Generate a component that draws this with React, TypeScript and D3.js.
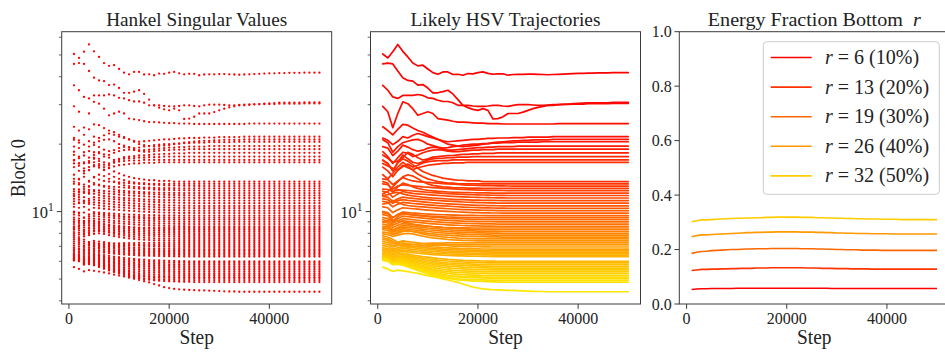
import React from "react";
import * as d3 from "d3";

const STEPS = [1000,2000,3000,4000,5000,6000,7000,8000,9000,10000,11000,12000,13000,14000,15000,16000,17000,18000,19000,20000,21000,22000,23000,24000,25000,26000,27000,28000,29000,30000,31000,32000,33000,34000,35000,36000,37000,38000,39000,40000,41000,42000,43000,44000,45000,46000,47000,48000,49000,50000];

const TOP_SERIES = [
  [50.5,48.5,51.7,55.7,51.9,49.0,46.0,44.7,45.0,43.3, 41.7,41.0,42.0,42.0,40.9,41.0,40.6,41.3,41.2,41.7, 42.0,41.4,41.0,41.2,41.2,40.6,40.9,41.0,41.0,41.1, 41.1,41.0,40.9,40.8,40.9,41.0,41.1,41.2,41.3,41.4, 41.4,41.5,41.5,41.6,41.6,41.6,41.7,41.7,41.7,41.7],
  [45.6,46.0,45.6,42.4,39.6,38.5,38.2,36.7,36.9,35.6, 33.9,33.9,34.3,34.8,33.5,31.6,29.8,29.1,28.6,28.3, 28.8,28.3,25.9,26.0,26.5,27.4,27.4,27.4,27.8,28.3, 28.8,29.2,29.5,29.8,29.8,30.0,30.1,30.2,30.3,30.4, 30.5,30.6,30.6,30.6,30.6,30.6,30.7,30.7,30.7,30.7],
  [36.6,34.8,32.5,32.0,33.0,33.0,33.0,33.3,33.0,32.2, 32.0,31.4,31.0,31.0,30.6,29.8,29.8,29.8,29.6,29.5, 29.5,29.6,29.8,29.8,29.6,29.5,29.8,30.0,30.0,30.0, 29.9,29.8,29.8,29.9,30.0,30.0,30.1,30.1,30.2,30.2, 30.2,30.3,30.3,30.3,30.3,30.3,30.4,30.4,30.4,30.4],
  [29.5,27.9,23.7,27.4,30.9,30.3,28.8,26.9,27.4,27.9, 27.4,26.0,25.8,25.6,25.3,25.1,25.1,25.0,24.9,24.8, 24.8,24.7,24.7,24.7,24.6,24.6,24.6,24.6,24.6,24.6, 24.6,24.6,24.6,24.6,24.6,24.7,24.7,24.7,24.7,24.7, 24.7,24.7,24.7,24.7,24.7,24.7,24.7,24.7,24.7,24.7],
  [23.9,23.0,22.0,23.3,24.5,24.3,23.6,23.0,22.6,22.0, 21.5,21.0,20.7,20.5,20.6,20.7,20.8,20.9,21.0,21.0, 21.1,21.2,21.2,21.3,21.3,21.3,21.4,21.4,21.4,21.5, 21.5,21.5,21.5,21.5,21.6,21.6,21.6,21.6,21.6,21.6, 21.6,21.6,21.6,21.6,21.6,21.6,21.6,21.6,21.6,21.6],
  [21.3,20.8,19.9,20.6,21.6,21.3,21.9,22.3,22.0,21.6, 21.3,21.0,20.5,20.0,19.8,19.6,19.5,19.6,19.7,19.8, 20.0,20.1,20.3,20.4,20.5,20.6,20.7,20.7,20.8,20.8, 20.9,20.9,20.9,20.9,21.0,21.0,21.0,21.0,21.0,21.0, 21.0,21.0,21.0,21.0,21.0,21.0,21.0,21.0,21.0,21.0],
  [20.9,20.3,18.4,19.5,20.3,20.6,20.9,21.0,20.6,20.0, 19.7,19.4,19.2,19.3,19.5,19.6,19.8,19.9,20.0,20.0, 20.1,20.1,20.2,20.2,20.3,20.3,20.3,20.4,20.4,20.4, 20.4,20.4,20.5,20.5,20.5,20.5,20.5,20.5,20.5,20.5, 20.5,20.5,20.5,20.5,20.5,20.5,20.5,20.5,20.5,20.5],
  [19.5,19.2,17.8,18.6,19.8,19.4,18.9,18.6,18.8,19.2, 19.4,19.3,19.0,18.8,18.8,18.9,19.0,19.1,19.2,19.3, 19.3,19.4,19.4,19.5,19.5,19.5,19.5,19.6,19.6,19.6, 19.6,19.6,19.6,19.6,19.6,19.6,19.6,19.6,19.6,19.6, 19.6,19.6,19.6,19.6,19.6,19.6,19.6,19.6,19.6,19.6],
  [18.5,17.6,16.4,17.4,18.4,18.2,17.6,17.9,18.3,18.6, 18.8,18.9,18.8,18.6,18.5,18.5,18.6,18.7,18.8,18.8, 18.9,18.9,18.9,19.0,19.0,19.0,19.0,19.0,19.0,19.0, 19.0,19.0,19.0,19.0,19.0,19.0,19.0,19.0,19.0,19.0, 19.0,19.0,19.0,19.0,19.0,19.0,19.0,19.0,19.0,19.0],
  [17.9,17.3,16.6,16.8,17.4,18.4,18.0,17.4,17.0,17.2, 17.5,17.6,17.7,17.8,17.8,17.9,18.0,18.0,18.1,18.1, 18.2,18.2,18.2,18.3,18.3,18.3,18.3,18.3,18.3,18.3, 18.3,18.3,18.3,18.3,18.3,18.3,18.3,18.3,18.3,18.3, 18.3,18.3,18.3,18.3,18.3,18.3,18.3,18.3,18.3,18.3],
  [17.0,16.4,15.2,16.6,17.9,17.2,16.6,16.4,16.7,17.0, 17.2,17.3,17.3,17.4,17.4,17.5,17.5,17.5,17.6,17.6, 17.6,17.6,17.6,17.6,17.6,17.6,17.6,17.6,17.6,17.6, 17.6,17.6,17.6,17.6,17.6,17.6,17.6,17.6,17.6,17.6, 17.6,17.6,17.6,17.6,17.6,17.6,17.6,17.6,17.6,17.6],
  [16.4,16.0,15.6,15.3,15.9,16.3,15.8,16.1,16.5,16.7, 16.8,16.9,16.9,16.9,17.0,17.0,17.0,17.0,17.0,17.0, 17.0,17.0,17.0,17.0,17.0,17.0,17.0,17.0,17.0,17.0, 17.0,17.0,17.0,17.0,17.0,17.0,17.0,17.0,17.0,17.0, 17.0,17.0,17.0,17.0,17.0,17.0,17.0,17.0,17.0,17.0],
  [15.8,15.2,14.3,15.3,16.1,15.7,15.4,15.7,15.9,16.1, 16.2,16.3,16.4,16.4,16.5,16.5,16.5,16.6,16.6,16.6, 16.6,16.6,16.6,16.6,16.6,16.6,16.6,16.6,16.6,16.6, 16.6,16.6,16.6,16.6,16.6,16.6,16.6,16.6,16.6,16.6, 16.6,16.6,16.6,16.6,16.6,16.6,16.6,16.6,16.6,16.6],
  [16.9,16.4,15.2,16.5,17.2,16.8,16.2,15.6,15.1,14.8, 14.5,14.3,14.1,14.0,13.9,13.8,13.8,13.7,13.7,13.7, 13.6,13.6,13.6,13.6,13.6,13.6,13.6,13.6,13.6,13.6, 13.6,13.6,13.6,13.6,13.6,13.6,13.6,13.6,13.6,13.6, 13.6,13.6,13.6,13.6,13.6,13.6,13.6,13.6,13.6,13.6],
  [14.6,14.0,14.8,15.8,16.6,16.0,15.3,14.7,14.3,14.0, 13.8,13.6,13.5,13.4,13.4,13.3,13.3,13.3,13.3,13.3, 13.3,13.3,13.3,13.3,13.3,13.3,13.3,13.3,13.3,13.3, 13.3,13.3,13.3,13.3,13.3,13.3,13.3,13.3,13.3,13.3, 13.3,13.3,13.3,13.3,13.3,13.3,13.3,13.3,13.3,13.3],
];

const DENSE_SERIES = [
  [14.0,13.9,13.2,13.7,14.2,13.9,13.7,13.6,13.55,13.5, 13.44,13.39,13.34,13.29,13.25,13.21,13.17,13.14,13.11,13.09, 13.07,13.05,13.04,13.03,13.02,13.01,13,13,13,13, 13,13,13,13,13,13,13,13,13,13, 13,13,13,13,13,13,13,13,13,13],
  [12.0,12.3,12.9,13.6,14.3,14.6,14.4,14.0,13.6,13.3, 13.1,13.0,12.9,12.85,12.8,12.78,12.76,12.74,12.73,12.72, 12.71,12.7,12.7,12.7,12.7,12.7,12.7,12.7,12.7,12.7, 12.7,12.7,12.7,12.7,12.7,12.7,12.7,12.7,12.7,12.7, 12.7,12.7,12.7,12.7,12.7,12.7,12.7,12.7,12.7,12.7],
  [13.3,13.2,12.6,13.0,13.2,13.1,13.03,12.97,12.9,12.85, 12.8,12.75,12.7,12.66,12.63,12.6,12.55,12.52,12.5,12.48, 12.46,12.45,12.44,12.43,12.42,12.41,12.4,12.4,12.4,12.4, 12.4,12.4,12.4,12.4,12.4,12.4,12.4,12.4,12.4,12.4, 12.4,12.4,12.4,12.4,12.4,12.4,12.4,12.4,12.4,12.4],
  [13.6,13.4,12.2,12.9,13.4,13.2,12.9,12.7,12.55,12.45, 12.38,12.32,12.27,12.23,12.2,12.18,12.16,12.15,12.14,12.13, 12.12,12.11,12.1,12.1,12.1,12.1,12.1,12.1,12.1,12.1, 12.1,12.1,12.1,12.1,12.1,12.1,12.1,12.1,12.1,12.1, 12.1,12.1,12.1,12.1,12.1,12.1,12.1,12.1,12.1,12.1],
  [12.6,12.55,12.3,12.5,12.48,12.42,12.36,12.3,12.25,12.2, 12.15,12.11,12.07,12.03,12.0,11.97,11.94,11.91,11.89,11.87, 11.86,11.84,11.83,11.82,11.81,11.8,11.8,11.8,11.8,11.8, 11.8,11.8,11.8,11.8,11.8,11.8,11.8,11.8,11.8,11.8, 11.8,11.8,11.8,11.8,11.8,11.8,11.8,11.8,11.8,11.8],
  [12.3,12.2,11.6,12.0,12.3,12.15,12.06,12.0,11.95,11.9, 11.85,11.81,11.77,11.73,11.7,11.67,11.64,11.61,11.59,11.57, 11.56,11.54,11.53,11.52,11.51,11.5,11.5,11.5,11.5,11.5, 11.5,11.5,11.5,11.5,11.5,11.5,11.5,11.5,11.5,11.5, 11.5,11.5,11.5,11.5,11.5,11.5,11.5,11.5,11.5,11.5],
  [11.8,11.9,12.1,12.2,12.0,11.85,11.75,11.68,11.6,11.55, 11.5,11.46,11.42,11.38,11.35,11.32,11.3,11.28,11.26,11.25, 11.24,11.23,11.22,11.21,11.2,11.2,11.2,11.2,11.2,11.2, 11.2,11.2,11.2,11.2,11.2,11.2,11.2,11.2,11.2,11.2, 11.2,11.2,11.2,11.2,11.2,11.2,11.2,11.2,11.2,11.2],
  [11.7,11.6,11.1,11.4,11.6,11.52,11.46,11.4,11.35,11.3, 11.25,11.21,11.17,11.13,11.1,11.07,11.04,11.01,10.99,10.97, 10.96,10.94,10.93,10.92,10.91,10.9,10.9,10.9,10.9,10.9, 10.9,10.9,10.9,10.9,10.9,10.9,10.9,10.9,10.9,10.9, 10.9,10.9,10.9,10.9,10.9,10.9,10.9,10.9,10.9,10.9],
  [11.4,11.3,10.9,11.2,11.3,11.22,11.16,11.1,11.05,11.0, 10.95,10.91,10.87,10.83,10.8,10.77,10.74,10.71,10.69,10.67, 10.66,10.64,10.63,10.62,10.61,10.6,10.6,10.6,10.6,10.6, 10.6,10.6,10.6,10.6,10.6,10.6,10.6,10.6,10.6,10.6, 10.6,10.6,10.6,10.6,10.6,10.6,10.6,10.6,10.6,10.6],
  [11.1,11.0,10.5,10.8,11.0,10.93,10.87,10.82,10.77,10.72, 10.68,10.64,10.6,10.57,10.54,10.51,10.48,10.45,10.43,10.41, 10.4,10.39,10.38,10.37,10.36,10.35,10.35,10.35,10.35,10.35, 10.35,10.35,10.35,10.35,10.35,10.35,10.35,10.35,10.35,10.35, 10.35,10.35,10.35,10.35,10.35,10.35,10.35,10.35,10.35,10.35],
  [10.8,10.9,11.2,11.0,10.75,10.65,10.58,10.53,10.49,10.45, 10.41,10.37,10.33,10.3,10.27,10.24,10.21,10.19,10.17,10.15, 10.14,10.13,10.12,10.11,10.1,10.1,10.1,10.1,10.1,10.1, 10.1,10.1,10.1,10.1,10.1,10.1,10.1,10.1,10.1,10.1, 10.1,10.1,10.1,10.1,10.1,10.1,10.1,10.1,10.1,10.1],
  [10.5,10.4,9.9,10.2,10.4,10.35,10.3,10.25,10.2,10.16, 10.12,10.08,10.05,10.02,9.99,9.96,9.94,9.92,9.9,9.89, 9.88,9.87,9.86,9.86,9.85,9.85,9.85,9.85,9.85,9.85, 9.85,9.85,9.85,9.85,9.85,9.85,9.85,9.85,9.85,9.85, 9.85,9.85,9.85,9.85,9.85,9.85,9.85,9.85,9.85,9.85],
  [10.0,9.9,9.4,9.7,9.95,9.9,9.86,9.82,9.78,9.75, 9.72,9.7,9.68,9.66,9.65,9.64,9.63,9.62,9.62,9.61, 9.61,9.6,9.6,9.6,9.6,9.6,9.6,9.6,9.6,9.6, 9.6,9.6,9.6,9.6,9.6,9.6,9.6,9.6,9.6,9.6, 9.6,9.6,9.6,9.6,9.6,9.6,9.6,9.6,9.6,9.6],
  [9.0,9.1,9.4,9.7,9.8,9.75,9.7,9.65,9.6,9.56, 9.53,9.5,9.48,9.46,9.44,9.43,9.42,9.41,9.41,9.4, 9.4,9.4,9.4,9.4,9.4,9.4,9.4,9.4,9.4,9.4, 9.4,9.4,9.4,9.4,9.4,9.4,9.4,9.4,9.4,9.4, 9.4,9.4,9.4,9.4,9.4,9.4,9.4,9.4,9.4,9.4],
  [9.9,9.8,9.1,9.5,9.8,9.72,9.65,9.6,9.55,9.5, 9.45,9.41,9.37,9.34,9.31,9.29,9.27,9.25,9.24,9.23, 9.22,9.21,9.21,9.2,9.2,9.2,9.2,9.2,9.2,9.2, 9.2,9.2,9.2,9.2,9.2,9.2,9.2,9.2,9.2,9.2, 9.2,9.2,9.2,9.2,9.2,9.2,9.2,9.2,9.2,9.2],
  [9.7,9.6,9.0,9.3,9.55,9.5,9.45,9.4,9.35,9.3, 9.25,9.21,9.17,9.14,9.11,9.09,9.07,9.05,9.04,9.03, 9.02,9.01,9.01,9.0,9.0,9.0,9.0,9.0,9.0,9.0, 9.0,9.0,9.0,9.0,9.0,9.0,9.0,9.0,9.0,9.0, 9.0,9.0,9.0,9.0,9.0,9.0,9.0,9.0,9.0,9.0],
  [9.4,9.3,8.9,9.1,9.3,9.25,9.2,9.15,9.1,9.06, 9.02,8.99,8.96,8.93,8.91,8.89,8.87,8.85,8.84,8.83, 8.82,8.81,8.81,8.8,8.8,8.8,8.8,8.8,8.8,8.8, 8.8,8.8,8.8,8.8,8.8,8.8,8.8,8.8,8.8,8.8, 8.8,8.8,8.8,8.8,8.8,8.8,8.8,8.8,8.8,8.8],
  [9.2,9.1,8.7,8.9,9.1,9.05,9.0,8.95,8.9,8.86, 8.82,8.79,8.76,8.73,8.71,8.69,8.67,8.65,8.64,8.63, 8.62,8.61,8.61,8.6,8.6,8.6,8.6,8.6,8.6,8.6, 8.6,8.6,8.6,8.6,8.6,8.6,8.6,8.6,8.6,8.6, 8.6,8.6,8.6,8.6,8.6,8.6,8.6,8.6,8.6,8.6],
  [8.4,8.6,8.9,9.1,9.0,8.9,8.8,8.72,8.66,8.61, 8.57,8.54,8.51,8.49,8.48,8.47,8.46,8.46,8.45,8.45, 8.45,8.45,8.45,8.45,8.45,8.45,8.45,8.45,8.45,8.45, 8.45,8.45,8.45,8.45,8.45,8.45,8.45,8.45,8.45,8.45, 8.45,8.45,8.45,8.45,8.45,8.45,8.45,8.45,8.45,8.45],
  [9.0,8.9,8.5,8.7,8.85,8.8,8.75,8.7,8.65,8.6, 8.56,8.52,8.48,8.45,8.42,8.4,8.38,8.36,8.34,8.33, 8.32,8.31,8.31,8.3,8.3,8.3,8.3,8.3,8.3,8.3, 8.3,8.3,8.3,8.3,8.3,8.3,8.3,8.3,8.3,8.3, 8.3,8.3,8.3,8.3,8.3,8.3,8.3,8.3,8.3,8.3],
  [8.8,8.7,8.3,8.5,8.7,8.65,8.6,8.55,8.5,8.45, 8.41,8.37,8.33,8.3,8.27,8.25,8.23,8.21,8.2,8.19, 8.18,8.17,8.16,8.16,8.15,8.15,8.15,8.15,8.15,8.15, 8.15,8.15,8.15,8.15,8.15,8.15,8.15,8.15,8.15,8.15, 8.15,8.15,8.15,8.15,8.15,8.15,8.15,8.15,8.15,8.15],
  [8.6,8.55,8.2,8.4,8.55,8.5,8.45,8.4,8.35,8.3, 8.26,8.22,8.18,8.15,8.12,8.1,8.08,8.06,8.05,8.04, 8.03,8.02,8.01,8.01,8.0,8.0,8.0,8.0,8.0,8.0, 8.0,8.0,8.0,8.0,8.0,8.0,8.0,8.0,8.0,8.0, 8.0,8.0,8.0,8.0,8.0,8.0,8.0,8.0,8.0,8.0],
  [8.45,8.4,8.1,8.25,8.4,8.35,8.3,8.25,8.2,8.15, 8.11,8.07,8.03,8.0,7.97,7.95,7.93,7.91,7.9,7.89, 7.88,7.87,7.86,7.86,7.85,7.85,7.85,7.85,7.85,7.85, 7.85,7.85,7.85,7.85,7.85,7.85,7.85,7.85,7.85,7.85, 7.85,7.85,7.85,7.85,7.85,7.85,7.85,7.85,7.85,7.85],
  [8.3,8.25,7.95,8.1,8.25,8.2,8.15,8.1,8.05,8.0, 7.96,7.92,7.88,7.85,7.82,7.8,7.78,7.76,7.75,7.74, 7.73,7.72,7.71,7.71,7.7,7.7,7.7,7.7,7.7,7.7, 7.7,7.7,7.7,7.7,7.7,7.7,7.7,7.7,7.7,7.7, 7.7,7.7,7.7,7.7,7.7,7.7,7.7,7.7,7.7,7.7],
  [8.1,8.05,7.9,8.0,8.15,8.2,8.15,8.05,7.95,7.88, 7.82,7.77,7.72,7.68,7.65,7.62,7.6,7.58,7.57,7.56, 7.56,7.55,7.55,7.55,7.55,7.55,7.55,7.55,7.55,7.55, 7.55,7.55,7.55,7.55,7.55,7.55,7.55,7.55,7.55,7.55, 7.55,7.55,7.55,7.55,7.55,7.55,7.55,7.55,7.55,7.55],
  [7.95,7.9,7.75,7.85,7.95,8.0,7.95,7.85,7.77,7.7, 7.64,7.59,7.55,7.51,7.48,7.46,7.44,7.43,7.42,7.41, 7.41,7.4,7.4,7.4,7.4,7.4,7.4,7.4,7.4,7.4, 7.4,7.4,7.4,7.4,7.4,7.4,7.4,7.4,7.4,7.4, 7.4,7.4,7.4,7.4,7.4,7.4,7.4,7.4,7.4,7.4],
  [7.8,7.7,7.5,7.3,7.15,7.1,7.12,7.16,7.2,7.22, 7.23,7.24,7.24,7.25,7.25,7.25,7.25,7.25,7.25,7.25, 7.25,7.25,7.25,7.25,7.25,7.25,7.25,7.25,7.25,7.25, 7.25,7.25,7.25,7.25,7.25,7.25,7.25,7.25,7.25,7.25, 7.25,7.25,7.25,7.25,7.25,7.25,7.25,7.25,7.25,7.25],
  [7.65,7.55,7.35,7.15,7.0,6.95,6.98,7.02,7.05,7.07, 7.08,7.09,7.1,7.1,7.1,7.1,7.1,7.1,7.1,7.1, 7.1,7.1,7.1,7.1,7.1,7.1,7.1,7.1,7.1,7.1, 7.1,7.1,7.1,7.1,7.1,7.1,7.1,7.1,7.1,7.1, 7.1,7.1,7.1,7.1,7.1,7.1,7.1,7.1,7.1,7.1],
  [7.5,7.45,7.2,7.3,7.4,7.35,7.3,7.25,7.2,7.16, 7.12,7.09,7.06,7.04,7.02,7.0,6.99,6.98,6.97,6.97, 6.96,6.96,6.95,6.95,6.95,6.95,6.95,6.95,6.95,6.95, 6.95,6.95,6.95,6.95,6.95,6.95,6.95,6.95,6.95,6.95, 6.95,6.95,6.95,6.95,6.95,6.95,6.95,6.95,6.95,6.95],
  [7.35,7.3,7.05,7.15,7.25,7.2,7.15,7.1,7.05,7.01, 6.97,6.94,6.91,6.89,6.87,6.85,6.84,6.83,6.82,6.82, 6.81,6.81,6.8,6.8,6.8,6.8,6.8,6.8,6.8,6.8, 6.8,6.8,6.8,6.8,6.8,6.8,6.8,6.8,6.8,6.8, 6.8,6.8,6.8,6.8,6.8,6.8,6.8,6.8,6.8,6.8],
  [7.2,7.15,6.95,7.05,7.1,7.05,7.0,6.96,6.92,6.89, 6.86,6.83,6.8,6.78,6.76,6.75,6.74,6.73,6.72,6.72, 6.71,6.71,6.7,6.7,6.7,6.7,6.7,6.7,6.7,6.7, 6.7,6.7,6.7,6.7,6.7,6.7,6.7,6.7,6.7,6.7, 6.7,6.7,6.7,6.7,6.7,6.7,6.7,6.7,6.7,6.7],
  [7.05,7.0,6.8,6.9,6.98,6.94,6.9,6.86,6.82,6.79, 6.76,6.73,6.7,6.68,6.66,6.65,6.64,6.63,6.62,6.62, 6.61,6.61,6.6,6.6,6.6,6.6,6.6,6.6,6.6,6.6, 6.6,6.6,6.6,6.6,6.6,6.6,6.6,6.6,6.6,6.6, 6.6,6.6,6.6,6.6,6.6,6.6,6.6,6.6,6.6,6.6],
  [6.9,6.85,6.7,6.78,6.85,6.82,6.78,6.74,6.7,6.67, 6.64,6.62,6.6,6.58,6.56,6.55,6.54,6.53,6.52,6.52, 6.51,6.51,6.5,6.5,6.5,6.5,6.5,6.5,6.5,6.5, 6.5,6.5,6.5,6.5,6.5,6.5,6.5,6.5,6.5,6.5, 6.5,6.5,6.5,6.5,6.5,6.5,6.5,6.5,6.5,6.5],
  [6.8,6.75,6.6,6.68,6.74,6.7,6.66,6.62,6.59,6.56, 6.53,6.51,6.49,6.47,6.46,6.45,6.44,6.43,6.42,6.42, 6.41,6.41,6.4,6.4,6.4,6.4,6.4,6.4,6.4,6.4, 6.4,6.4,6.4,6.4,6.4,6.4,6.4,6.4,6.4,6.4, 6.4,6.4,6.4,6.4,6.4,6.4,6.4,6.4,6.4,6.4],
  [6.7,6.65,6.5,6.58,6.64,6.6,6.56,6.52,6.49,6.46, 6.43,6.41,6.39,6.37,6.36,6.35,6.34,6.33,6.32,6.32, 6.31,6.31,6.3,6.3,6.3,6.3,6.3,6.3,6.3,6.3, 6.3,6.3,6.3,6.3,6.3,6.3,6.3,6.3,6.3,6.3, 6.3,6.3,6.3,6.3,6.3,6.3,6.3,6.3,6.3,6.3],
  [6.6,6.55,6.4,6.5,6.52,6.46,6.4,6.35,6.3,6.26, 6.22,6.18,6.15,6.12,6.1,6.08,6.06,6.05,6.04,6.03, 6.02,6.01,6.01,6.0,6.0,6.0,6.0,6.0,6.0,6.0, 6.0,6.0,6.0,6.0,6.0,6.0,6.0,6.0,6.0,6.0, 6.0,6.0,6.0,6.0,6.0,6.0,6.0,6.0,6.0,6.0],
  [6.5,6.45,6.3,6.4,6.42,6.36,6.3,6.25,6.2,6.16, 6.12,6.08,6.05,6.02,6.0,5.98,5.96,5.95,5.94,5.93, 5.92,5.91,5.91,5.9,5.9,5.9,5.9,5.9,5.9,5.9, 5.9,5.9,5.9,5.9,5.9,5.9,5.9,5.9,5.9,5.9, 5.9,5.9,5.9,5.9,5.9,5.9,5.9,5.9,5.9,5.9],
  [6.45,6.4,6.2,6.3,6.35,6.28,6.22,6.16,6.1,6.05, 6.01,5.97,5.94,5.91,5.89,5.87,5.85,5.84,5.83,5.82, 5.81,5.81,5.8,5.8,5.8,5.8,5.8,5.8,5.8,5.8, 5.8,5.8,5.8,5.8,5.8,5.8,5.8,5.8,5.8,5.8, 5.8,5.8,5.8,5.8,5.8,5.8,5.8,5.8,5.8,5.8],
  [6.4,6.35,6.15,6.25,6.28,6.2,6.13,6.07,6.01,5.96, 5.91,5.87,5.84,5.81,5.79,5.77,5.75,5.74,5.73,5.72, 5.71,5.71,5.7,5.7,5.7,5.7,5.7,5.7,5.7,5.7, 5.7,5.7,5.7,5.7,5.7,5.7,5.7,5.7,5.7,5.7, 5.7,5.7,5.7,5.7,5.7,5.7,5.7,5.7,5.7,5.7],
  [6.35,6.3,6.1,6.2,6.22,6.14,6.06,5.99,5.93,5.87, 5.82,5.78,5.74,5.71,5.69,5.67,5.65,5.64,5.63,5.62, 5.61,5.61,5.6,5.6,5.6,5.6,5.6,5.6,5.6,5.6, 5.6,5.6,5.6,5.6,5.6,5.6,5.6,5.6,5.6,5.6, 5.6,5.6,5.6,5.6,5.6,5.6,5.6,5.6,5.6,5.6],
  [6.3,6.25,6.05,6.15,6.15,6.06,5.98,5.9,5.84,5.78, 5.73,5.68,5.64,5.61,5.58,5.56,5.55,5.54,5.53,5.52, 5.51,5.51,5.5,5.5,5.5,5.5,5.5,5.5,5.5,5.5, 5.5,5.5,5.5,5.5,5.5,5.5,5.5,5.5,5.5,5.5, 5.5,5.5,5.5,5.5,5.5,5.5,5.5,5.5,5.5,5.5],
  [6.25,6.2,6.0,6.1,6.1,6.0,5.9,5.82,5.75,5.68, 5.62,5.57,5.53,5.5,5.47,5.45,5.44,5.43,5.42,5.42, 5.41,5.41,5.4,5.4,5.4,5.4,5.4,5.4,5.4,5.4, 5.4,5.4,5.4,5.4,5.4,5.4,5.4,5.4,5.4,5.4, 5.4,5.4,5.4,5.4,5.4,5.4,5.4,5.4,5.4,5.4],
  [6.2,6.15,5.95,6.05,6.05,5.95,5.85,5.75,5.67,5.6, 5.53,5.47,5.43,5.4,5.37,5.35,5.34,5.33,5.32,5.32, 5.31,5.31,5.3,5.3,5.3,5.3,5.3,5.3,5.3,5.3, 5.3,5.3,5.3,5.3,5.3,5.3,5.3,5.3,5.3,5.3, 5.3,5.3,5.3,5.3,5.3,5.3,5.3,5.3,5.3,5.3],
  [6.18,6.12,5.9,6.0,5.98,5.88,5.78,5.68,5.6,5.52, 5.45,5.39,5.34,5.3,5.27,5.25,5.23,5.22,5.21,5.21, 5.2,5.2,5.2,5.2,5.2,5.2,5.2,5.2,5.2,5.2, 5.2,5.2,5.2,5.2,5.2,5.2,5.2,5.2,5.2,5.2, 5.2,5.2,5.2,5.2,5.2,5.2,5.2,5.2,5.2,5.2],
  [6.15,6.1,5.88,5.95,5.92,5.82,5.72,5.62,5.53,5.45, 5.38,5.31,5.25,5.2,5.17,5.15,5.13,5.12,5.11,5.11, 5.1,5.1,5.1,5.1,5.1,5.1,5.1,5.1,5.1,5.1, 5.1,5.1,5.1,5.1,5.1,5.1,5.1,5.1,5.1,5.1, 5.1,5.1,5.1,5.1,5.1,5.1,5.1,5.1,5.1,5.1],
  [6.12,6.06,5.85,5.9,5.86,5.76,5.66,5.56,5.47,5.39, 5.32,5.26,5.2,5.16,5.13,5.11,5.09,5.08,5.07,5.06, 5.06,5.05,5.05,5.05,5.05,5.05,5.05,5.05,5.05,5.05, 5.05,5.05,5.05,5.05,5.05,5.05,5.05,5.05,5.05,5.05, 5.05,5.05,5.05,5.05,5.05,5.05,5.05,5.05,5.05,5.05],
  [6.1,6.03,5.82,5.86,5.8,5.7,5.6,5.5,5.41,5.33, 5.26,5.19,5.13,5.08,5.04,5.01,4.99,4.98,4.97,4.96, 4.96,4.95,4.95,4.95,4.95,4.95,4.95,4.95,4.95,4.95, 4.95,4.95,4.95,4.95,4.95,4.95,4.95,4.95,4.95,4.95, 4.95,4.95,4.95,4.95,4.95,4.95,4.95,4.95,4.95,4.95],
  [6.05,6.0,5.8,5.82,5.76,5.66,5.56,5.46,5.37,5.29, 5.21,5.14,5.08,5.03,4.99,4.96,4.94,4.92,4.9,4.89, 4.88,4.87,4.86,4.86,4.85,4.85,4.85,4.85,4.85,4.85, 4.85,4.85,4.85,4.85,4.85,4.85,4.85,4.85,4.85,4.85, 4.85,4.85,4.85,4.85,4.85,4.85,4.85,4.85,4.85,4.85],
  [5.65,5.55,5.41,5.48,5.44,5.4,5.35,5.3,5.23,5.18, 5.13,5.07,5.01,4.95,4.89,4.83,4.75,4.68,4.6,4.56, 4.52,4.5,4.48,4.47,4.46,4.45,4.45,4.44,4.43,4.42, 4.41,4.4,4.4,4.39,4.39,4.39,4.39,4.39,4.39,4.39, 4.39,4.39,4.39,4.39,4.39,4.39,4.39,4.39,4.39,4.39],
];

const HSV_SERIES = [...TOP_SERIES, ...DENSE_SERIES];

const ENERGY_R6 = [0.053,0.055,0.056,0.056,0.057,0.057,0.057,0.057,0.057,0.058, 0.058,0.058,0.058,0.058,0.058,0.058,0.058,0.058,0.058,0.058, 0.058,0.058,0.058,0.058,0.058,0.058,0.058,0.058,0.057,0.057, 0.057,0.057,0.057,0.057,0.057,0.057,0.057,0.057,0.057,0.057, 0.057,0.057,0.057,0.057,0.057,0.057,0.057,0.057,0.057,0.057];
const ENERGY_R13 = [0.123,0.125,0.127,0.127,0.128,0.128,0.129,0.129,0.13,0.13, 0.131,0.131,0.131,0.132,0.132,0.132,0.133,0.133,0.133,0.133, 0.133,0.133,0.133,0.132,0.132,0.132,0.131,0.131,0.131,0.13, 0.13,0.13,0.129,0.129,0.129,0.129,0.128,0.128,0.128,0.128, 0.128,0.128,0.128,0.128,0.128,0.128,0.128,0.128,0.128,0.128];
const ENERGY_R19 = [0.186,0.19,0.193,0.194,0.196,0.197,0.198,0.199,0.2,0.2, 0.201,0.202,0.202,0.203,0.203,0.203,0.204,0.204,0.204,0.204, 0.204,0.204,0.203,0.203,0.203,0.202,0.202,0.201,0.201,0.2, 0.2,0.199,0.199,0.199,0.198,0.198,0.198,0.198,0.197,0.197, 0.197,0.197,0.197,0.197,0.197,0.197,0.197,0.197,0.197,0.197];
const ENERGY_R26 = [0.247,0.251,0.254,0.254,0.255,0.256,0.257,0.258,0.259,0.26, 0.261,0.262,0.262,0.263,0.263,0.264,0.264,0.265,0.265,0.265, 0.265,0.265,0.264,0.264,0.264,0.263,0.263,0.262,0.262,0.261, 0.261,0.26,0.26,0.259,0.259,0.259,0.258,0.258,0.258,0.258, 0.257,0.257,0.257,0.257,0.257,0.257,0.257,0.257,0.257,0.257];
const ENERGY_R32 = [0.302,0.306,0.309,0.309,0.31,0.311,0.312,0.313,0.314,0.315, 0.315,0.316,0.316,0.317,0.317,0.318,0.318,0.319,0.319,0.319, 0.319,0.319,0.318,0.318,0.318,0.317,0.317,0.316,0.316,0.315, 0.315,0.314,0.314,0.313,0.313,0.312,0.312,0.312,0.311,0.311, 0.311,0.311,0.31,0.31,0.31,0.31,0.31,0.31,0.31,0.31];
const ENERGY_SERIES = [ENERGY_R6, ENERGY_R13, ENERGY_R19, ENERGY_R26, ENERGY_R32];
const LEGEND_R = [6, 13, 19, 26, 32];
const LEGEND_PCT = [10, 20, 30, 40, 50];
const LEGEND_T = [0, 0.2, 0.4, 0.6, 0.8];

const X_TICKS = [0, 20000, 40000];
const LOG_MINOR = [4, 5, 6, 7, 8, 9, 20, 30, 40, 50, 60];
const LIN_TICKS = [0, 0.2, 0.4, 0.6, 0.8, 1.0];
const TITLES = ["Hankel Singular Values", "Likely HSV Trajectories", "Energy Fraction Bottom  "];

const W = 945, H = 352;
const TOP = 31.7, BOTTOM = 304, PW = 270;
const LEFTS = [61.7, 370.5, 679.3];
const FONT = "Liberation Serif, Times New Roman, Times, DejaVu Serif, serif";
const SPINE = "#3c3c3c";

const autumn = (t: number) => d3.rgb(255, Math.round(255 * t), 0).formatHex();

function xScale(left: number) {
  return d3.scaleLinear().domain([-1450, 52450]).range([left, left + PW]);
}
const yLog = d3.scaleLog().domain([3.87, 63.5]).range([BOTTOM, TOP]);
const yLin = d3.scaleLinear().domain([0, 1]).range([BOTTOM, TOP]);

function XAxis({ left }: { left: number }) {
  const x = xScale(left);
  return (
    <g>
      {X_TICKS.map((t) => (
        <g key={t}>
          <line x1={x(t)} x2={x(t)} y1={BOTTOM} y2={BOTTOM + 4.9} stroke={SPINE} strokeWidth={1} />
          <text x={x(t)} y={324} textAnchor="middle" fontSize={16} fill="#222">{t}</text>
        </g>
      ))}
      <text x={left + PW / 2} y={344} textAnchor="middle" fontSize={20} fill="#222" textLength={34.5} lengthAdjust="spacingAndGlyphs">Step</text>
    </g>
  );
}

function LogYAxis({ left }: { left: number }) {
  return (
    <g>
      {LOG_MINOR.map((v) => (
        <line key={v} x1={left - 2.8} x2={left} y1={yLog(v)} y2={yLog(v)} stroke={SPINE} strokeWidth={0.8} />
      ))}
      <line x1={left - 4.9} x2={left} y1={yLog(10)} y2={yLog(10)} stroke={SPINE} strokeWidth={1} />
      <text x={left - 8} y={yLog(10) + 6} textAnchor="end" fontSize={16.5} fill="#222">
        10<tspan dy={-7} fontSize={11.5}>1</tspan>
      </text>
    </g>
  );
}

export default function App() {
  const x1 = xScale(LEFTS[0]);
  const x2 = xScale(LEFTS[1]);
  const x3 = xScale(LEFTS[2]);
  const n = HSV_SERIES.length;
  const lineMid = d3.line<number>().x((_, i) => x2(STEPS[i])).y((d) => yLog(d));
  const lineRight = d3.line<number>().x((_, i) => x3(STEPS[i])).y((d) => yLin(d));

  return (
    <svg width={W} height={H} viewBox={`0 0 ${W} ${H}`} style={{ position: "fixed", left: 0, top: 0, background: "#fff", fontFamily: FONT }}>
      <rect x={0} y={0} width={W} height={H} fill="#fff" />

      <g>
        {HSV_SERIES.map((s, si) =>
          s.map((v, i) => (
            <circle key={`${si}-${i}`} cx={x1(STEPS[i])} cy={yLog(v)} r={1.15} fill="#ff0000" />
          ))
        )}
      </g>

      <g fill="none" strokeWidth={1.7} strokeLinejoin="round" strokeLinecap="round">
        {HSV_SERIES.map((s, si) => (
          <path key={si} d={lineMid(s) || ""} stroke={autumn((0.9 * si) / (n - 1))} />
        ))}
      </g>

      <g fill="none" strokeWidth={1.6}>
        {ENERGY_SERIES.map((s, si) => (
          <path key={si} d={lineRight(s) || ""} stroke={autumn(LEGEND_T[si])} />
        ))}
      </g>

      {LEFTS.map((l) => (
        <rect key={l} x={l} y={TOP} width={PW} height={BOTTOM - TOP} fill="none" stroke={SPINE} strokeWidth={1} />
      ))}
      <XAxis left={LEFTS[0]} />
      <XAxis left={LEFTS[1]} />
      <XAxis left={LEFTS[2]} />
      <LogYAxis left={LEFTS[0]} />
      <LogYAxis left={LEFTS[1]} />
      <g>
        {LIN_TICKS.map((t) => (
          <g key={t}>
            <line x1={LEFTS[2] - 4.9} x2={LEFTS[2]} y1={yLin(t)} y2={yLin(t)} stroke={SPINE} strokeWidth={1} />
            <text x={LEFTS[2] - 7.5} y={yLin(t) + 5.5} textAnchor="end" fontSize={16} fill="#222">{t.toFixed(1)}</text>
          </g>
        ))}
      </g>

      <text x={LEFTS[0] + PW / 2} y={26} textAnchor="middle" fontSize={19} fill="#222" textLength={181} lengthAdjust="spacingAndGlyphs">{TITLES[0]}</text>
      <text x={LEFTS[1] + PW / 2} y={26} textAnchor="middle" fontSize={19} fill="#222" textLength={190} lengthAdjust="spacingAndGlyphs">{TITLES[1]}</text>
      <text x={LEFTS[2] + PW / 2} y={26} textAnchor="middle" fontSize={19} fill="#222" textLength={213} lengthAdjust="spacingAndGlyphs" xmlSpace="preserve">
        {TITLES[2]}<tspan fontStyle="italic">r</tspan>
      </text>

      <text transform="translate(25,168) rotate(-90)" textAnchor="middle" fontSize={20} fill="#222" textLength={58} lengthAdjust="spacingAndGlyphs">Block 0</text>

      <g>
        <rect x={763.3} y={41.7} width={176} height={152.6} rx={3.5} fill="#fff" fillOpacity={0.8} stroke="#cccccc" strokeWidth={1} />
        {LEGEND_R.map((r, i) => {
          const yy = 57.5 + i * 29.6;
          return (
            <g key={r}>
              <line x1={770.7} x2={811.7} y1={yy} y2={yy} stroke={autumn(LEGEND_T[i])} strokeWidth={1.6} />
              <text x={825} y={yy + 6.5} fontSize={20} fill="#222" xmlSpace="preserve">
                <tspan fontStyle="italic">r</tspan>{` = ${r} (${LEGEND_PCT[i]}%)`}
              </text>
            </g>
          );
        })}
      </g>
    </svg>
  );
}
